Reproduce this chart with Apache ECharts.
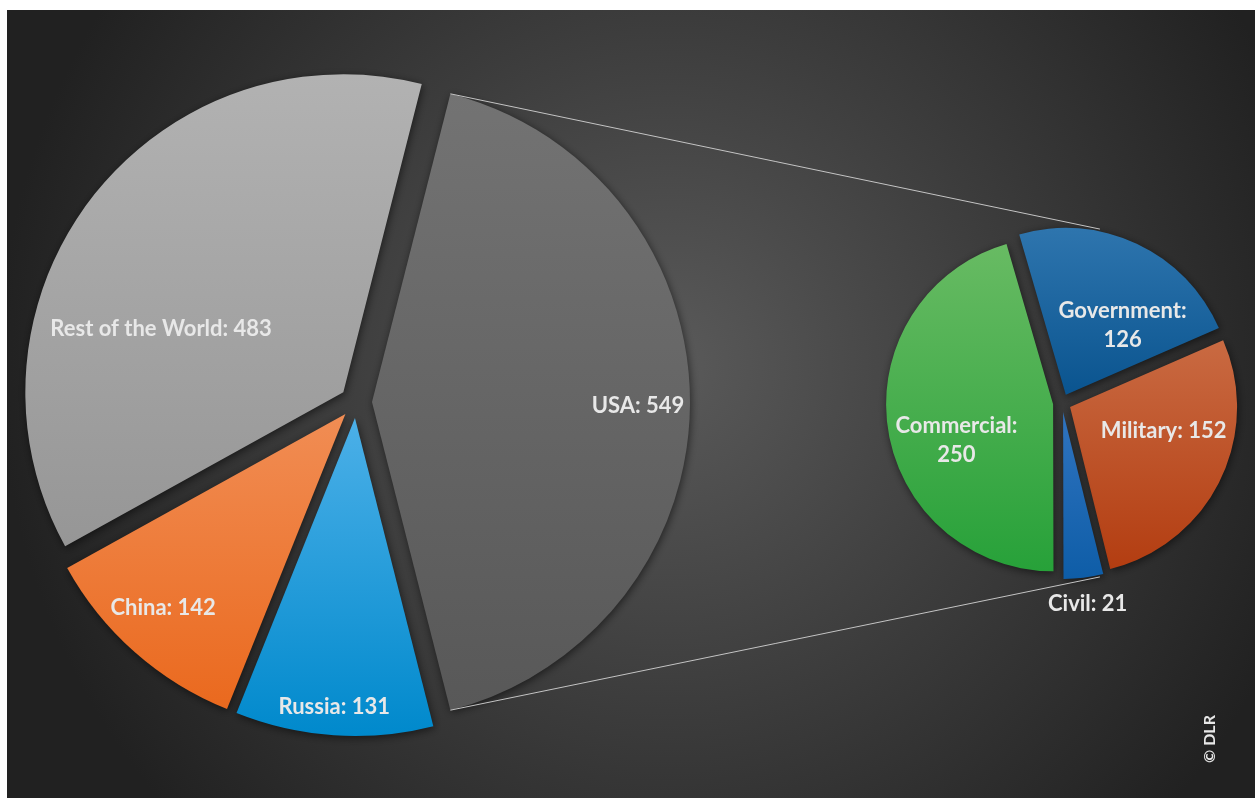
<!DOCTYPE html>
<html>
<head>
<meta charset="utf-8">
<script src="https://cdn.jsdelivr.net/npm/echarts@6/dist/echarts.min.js"></script>
<style>
  html, body { margin: 0; padding: 0; background: #fff; }
  #chart { width: 1255px; height: 798px; }
</style>
</head>
<body>
<div id="chart"></div>
<script>
// launch counts per country (main pie)
const countries = ['USA', 'Russia', 'China', 'Rest of the World'];
const countryValues = [549, 131, 142, 483];
// USA split by customer (second pie)
const sectors = ['Government', 'Military', 'Civil', 'Commercial'];
const sectorValues = [126, 152, 21, 250];
// labels written on two lines
const wrapped = ['Government', 'Commercial'];

// gradient per slice: top / bottom
const colors = {
    'USA': ['#737373', '#585858'],
    'Russia': ['#4cb0e8', '#0089cc'],
    'China': ['#f18d54', '#ea691e'],
    'Rest of the World': ['#b2b2b2', '#969696'],
    'Government': ['#2e75ae', '#0a548f'],
    'Military': ['#c96a42', '#b33d11'],
    'Civil': ['#3074c0', '#0e5da7'],
    'Commercial': ['#68bb63', '#27a139']
};

// where the labels sit relative to the default inside spot
const labelNudge = {
    'USA': [104, 4],
    'Russia': [-10, 127],
    'China': [-75, 72],
    'Rest of the World': [-54, 36],
    'Government': [20, 9],
    'Military': [16, -14],
    'Civil': [14, 106],
    'Commercial': [-11, 24]
};

const LEFT = { cx: 356, cy: 402, r: 318, offset: 16 };
const RIGHT = { cx: 1062, cy: 403, r: 167, offset: 9, start: 106.2, linkR: 178, linkAngle: 77.7 };

let total = countryValues.reduce((a, b) => a + b, 0);
// exploded slice (USA) centred on the right side
let leftStart = 180 * countryValues[0] / total;

function grad(name) {
    return new echarts.graphic.LinearGradient(0, 0, 0, 1, [
        { offset: 0, color: colors[name][0] },
        { offset: 1, color: colors[name][1] }
    ]);
}

function mkData(names, values) {
    return names.map((n, i) => ({
        name: n,
        value: values[i],
        selected: true,
        itemStyle: { color: grad(n) }
    }));
}

function pt(cx, cy, r, deg) {
    let a = deg * Math.PI / 180;
    return [cx + r * Math.cos(a), cy - r * Math.sin(a)];
}

// connector lines from USA slice edges to the second pie
let topA = pt(LEFT.cx + LEFT.offset, LEFT.cy, LEFT.r, leftStart);
let botA = pt(LEFT.cx + LEFT.offset, LEFT.cy, LEFT.r, -leftStart);
let topB = pt(RIGHT.cx, RIGHT.cy, RIGHT.linkR, RIGHT.linkAngle);
let botB = pt(RIGHT.cx, RIGHT.cy, RIGHT.linkR, -RIGHT.linkAngle);

let labelStyle = {
    show: true,
    position: 'inside',
    color: '#e8e8e8',
    fontFamily: 'Lato',
    fontWeight: 'bold',
    fontSize: 22,
    lineHeight: 29,
    formatter: function (p) {
        return p.name + ':' + (wrapped.indexOf(p.name) >= 0 ? '\n' : ' ') + p.value;
    }
};

let itemBase = {
    shadowBlur: 8,
    shadowColor: 'rgba(0,0,0,0.55)',
    shadowOffsetX: 1,
    shadowOffsetY: 2
};

function nudge(names) {
    return function (params) {
        let d = labelNudge[names[params.dataIndex]];
        return { dx: d[0], dy: d[1] };
    };
}

let chart = echarts.init(document.getElementById('chart'));
let option = {
    animation: false,
    graphic: [
        {
            type: 'rect', z: -10, silent: true,
            shape: { x: 7, y: 10, width: 1248, height: 788 },
            style: {
                fill: new echarts.graphic.RadialGradient(0.53, 0.45, 0.85, [
                    { offset: 0, color: '#5a5a5a' },
                    { offset: 0.5, color: '#3d3d3d' },
                    { offset: 1, color: '#212121' }
                ])
            }
        },
        {
            type: 'line', z: 10, silent: true,
            shape: { x1: topA[0], y1: topA[1], x2: topB[0], y2: topB[1] },
            style: { stroke: '#c4c4c4', lineWidth: 1 }
        },
        {
            type: 'line', z: 10, silent: true,
            shape: { x1: botA[0], y1: botA[1], x2: botB[0], y2: botB[1] },
            style: { stroke: '#c4c4c4', lineWidth: 1 }
        },
        {
            type: 'text', z: 10, silent: true,
            x: 1210, y: 739, rotation: Math.PI / 2,
            style: {
                text: '© DLR', fill: '#e8e8e8',
                font: 'bold 16px Lato',
                align: 'center', verticalAlign: 'middle'
            }
        }
    ],
    series: [
        {
            type: 'pie',
            center: [LEFT.cx, LEFT.cy],
            radius: [0, LEFT.r],
            startAngle: leftStart,
            clockwise: true,
            selectedMode: 'multiple',
            selectedOffset: LEFT.offset,
            avoidLabelOverlap: false,
            itemStyle: itemBase,
            label: labelStyle,
            labelLine: { show: false },
            labelLayout: nudge(countries),
            emphasis: { disabled: true },
            data: mkData(countries, countryValues)
        },
        {
            type: 'pie',
            center: [RIGHT.cx, RIGHT.cy],
            radius: [0, RIGHT.r],
            startAngle: RIGHT.start,
            clockwise: true,
            selectedMode: 'multiple',
            selectedOffset: RIGHT.offset,
            avoidLabelOverlap: false,
            itemStyle: itemBase,
            label: labelStyle,
            labelLine: { show: false },
            labelLayout: nudge(sectors),
            emphasis: { disabled: true },
            data: mkData(sectors, sectorValues)
        }
    ]
};
chart.setOption(option);
</script>
</body>
</html>
